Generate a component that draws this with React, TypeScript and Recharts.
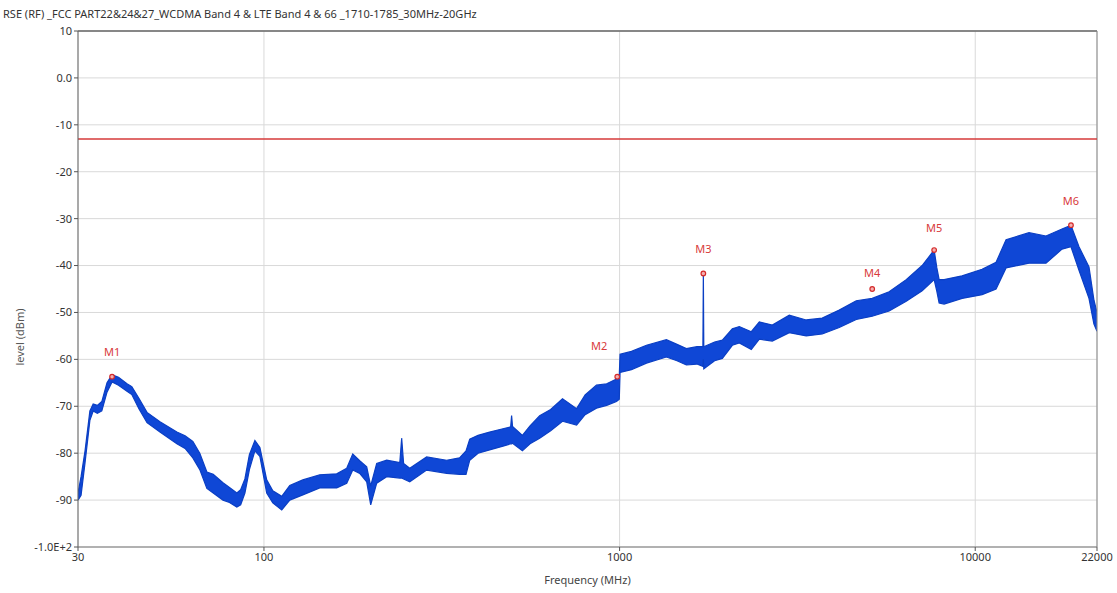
import {
  ComposedChart,
  Area,
  Scatter,
  XAxis,
  YAxis,
  CartesianGrid,
  ReferenceLine,
  LabelList,
} from 'recharts';

// trace envelope (MHz, dBm low / high)
const freqMHz = [
  30, 30.6, 31.4, 32.4, 33.1, 34, 35, 36.2, 37.4, 39, 41.2, 42.5, 44.5, 46.9, 51, 56.9, 60, 63.1, 66, 69.1,
  72, 76.7, 80, 83.9, 86, 88.4, 91, 94.3, 97.4, 101.8, 105.9, 112.2, 118.2, 128.6, 143.5, 160.2, 170.9, 177.7, 185.9, 194.5,
  199.6, 207.5, 221.4, 241, 243.9, 247, 257, 286.7, 326.4, 354.9, 370, 379, 400, 431, 470, 494, 497, 500, 533, 560,
  596, 640, 691, 757, 800, 861, 920, 980, 998, 1003, 1080, 1190, 1354, 1450, 1541, 1650, 1715, 1720, 1725, 1850,
  1945, 2075, 2171, 2346, 2471, 2688, 3000, 3348, 3714, 4146, 4628, 5133, 5727, 6397, 7092, 7665, 7800, 7916, 8175, 9186,
  10455, 11445, 12210, 14167, 15813, 17541, 18588, 19578, 20887, 21570, 22000,
];
const levelLow = [
  -90, -89, -82, -73, -71, -71.5, -71, -67, -64.8, -65.5, -66.8, -67.5, -70.5, -73.5, -75.5, -78, -79, -81, -83.5, -87.5,
  -88.5, -90, -90.5, -91.5, -91, -88.5, -83.5, -79.5, -80.7, -88.5, -90.6, -92.1, -90, -88.9, -87.4, -87.4, -86.4, -83.6, -84.3, -86.1,
  -91, -86.4, -85, -85.3, -85.3, -85.5, -86.1, -83.6, -84.3, -84.5, -84.5, -81.5, -80, -79.3, -78.5, -78, -78, -77.9, -79.5, -78,
  -76.8, -75.2, -73.2, -74, -71.8, -70.4, -69.8, -69, -68.5, -62.8, -62.2, -60.8, -59.5, -60.3, -61.2, -61, -61.5, -60, -62, -60.3,
  -59.8, -57, -56.5, -57.9, -55.7, -56.1, -54.3, -55, -54.6, -53.2, -51.5, -50.8, -49.7, -47.6, -45.4, -43, -45.5, -48, -48.2, -47,
  -46.2, -45, -40.5, -39.5, -39.5, -36.5, -36, -41, -47, -52.5, -54,
];
const levelHigh = [
  -88.5, -85, -79.5, -71, -69.5, -69.8, -69, -65, -63.3, -63.8, -65.2, -65.8, -68.3, -71.3, -73.3, -75.5, -76.3, -77.5, -80, -84,
  -84.5, -86.3, -87.3, -88.5, -87.8, -85.5, -80.3, -77.3, -78.8, -85.7, -88, -89.2, -86.9, -85.7, -84.6, -84.4, -83.2, -80.2, -81.6, -82.9,
  -87, -82.2, -81.5, -82, -76.8, -82.2, -83.2, -80.8, -81.5, -81, -79.5, -77, -76.2, -75.5, -74.8, -74.4, -72, -74.3, -76.2, -74.2,
  -72, -70.7, -68.4, -70.5, -67.6, -65.5, -65.2, -64.2, -63.5, -58.9, -58.3, -57, -55.8, -56.8, -57.7, -57.3, -57.3, -41.7, -57.3, -56.3,
  -55.9, -53.5, -53, -54.1, -52, -52.7, -50.6, -51.6, -51.2, -49.5, -47.5, -47, -45.6, -43, -40, -36.7, -40.5, -43, -43, -42.2,
  -40.8, -39.3, -34.5, -33, -33.7, -32.2, -31.4, -36, -40.3, -47.4, -50,
];

const markerNames = ['M1', 'M2', 'M3', 'M4', 'M5', 'M6'];
const markerFreq = [37.4, 985, 1720, 5133, 7665, 18588];
const markerLevel = [-63.7, -63.7, -41.7, -45, -36.7, -31.4];

const limitLevel = -13;
const xTicks = [30, 100, 1000, 10000, 22000];
const yTicks = [10, 0, -10, -20, -30, -40, -50, -60, -70, -80, -90, -100];

const trace = freqMHz.map((f, i) => ({ freq: f, range: [levelLow[i], levelHigh[i]] }));
const markers = markerNames.map((name, i) => ({ freq: markerFreq[i], level: markerLevel[i], name }));

const FONT = '"Noto Sans", "Open Sans", sans-serif';

// label nudges so the marker names sit where the analyzer put them
const labelShift: Record<string, [number, number]> = {
  M2: [-18, -6],
  M4: [0, 9],
  M5: [0, 2],
};

function yFmt(v: number) {
  if (v === 0) return '0.0';
  if (v === -100) return '-1.0E+2';
  return String(v);
}

function MarkerDot(props: any) {
  const { cx, cy } = props;
  return <circle cx={cx} cy={cy} r={2.3} fill="#f4b0b0" stroke="#d42a2a" strokeWidth={1.2} />;
}

function MarkerLabel(props: any) {
  const { x, y, width, value } = props;
  const [dx, dy] = labelShift[value] ?? [0, 0];
  return (
    <text x={x + (width ?? 0) / 2 + dx} y={y - 16 + dy} textAnchor="middle" fontSize={11} fill="#d83a3a">
      {value}
    </text>
  );
}

export default function App() {
  return (
    <div style={{ position: 'absolute', left: 0, top: 0, width: 1117, height: 593, background: '#fff', fontFamily: FONT }}>
      <div style={{ position: 'absolute', left: 3, top: 6, fontSize: 11, color: '#333', whiteSpace: 'nowrap' }}>
        RSE (RF) _FCC PART22&amp;24&amp;27_WCDMA Band 4 &amp; LTE Band 4 &amp; 66 _1710-1785_30MHz-20GHz
      </div>
      <ComposedChart width={1117} height={593} margin={{ top: 31, right: 20, bottom: 0, left: 0 }} data={trace}>
        <CartesianGrid stroke="#d9d9d9" />
        <XAxis
          dataKey="freq"
          type="number"
          scale="log"
          domain={[30, 22000]}
          allowDataOverflow
          ticks={xTicks}
          height={46}
          tick={{ fontSize: 11, fill: '#333' }}
          tickLine={{ stroke: '#555' }}
          tickSize={4}
          axisLine={{ stroke: '#777' }}
          label={{ value: 'Frequency (MHz)', position: 'insideBottom', offset: 9, style: { fontSize: 11, fill: '#444' } }}
        />
        <YAxis
          type="number"
          domain={[-100, 10]}
          ticks={yTicks}
          width={78}
          tickFormatter={yFmt}
          tick={{ fontSize: 11, fill: '#333' }}
          tickLine={{ stroke: '#555' }}
          tickSize={4}
          axisLine={{ stroke: '#666' }}
          label={{ value: 'level (dBm)', angle: -90, position: 'insideLeft', offset: 20, dy: 48, style: { textAnchor: 'middle', fontSize: 11, fill: '#555' } }}
        />
        <ReferenceLine y={10} stroke="#666" strokeWidth={1.5} />
        <ReferenceLine x={22000} stroke="#888" />
        <ReferenceLine y={limitLevel} stroke="#d63a3a" strokeWidth={1.5} />
        <Area
          dataKey="range"
          type="linear"
          stroke="#0b3fc4"
          strokeWidth={1.2}
          fill="#0f47d6"
          fillOpacity={1}
          isAnimationActive={false}
          dot={false}
          activeDot={false}
        />
        <Scatter data={markers} dataKey="level" shape={<MarkerDot />} isAnimationActive={false}>
          <LabelList dataKey="name" content={<MarkerLabel />} />
        </Scatter>
      </ComposedChart>
    </div>
  );
}
